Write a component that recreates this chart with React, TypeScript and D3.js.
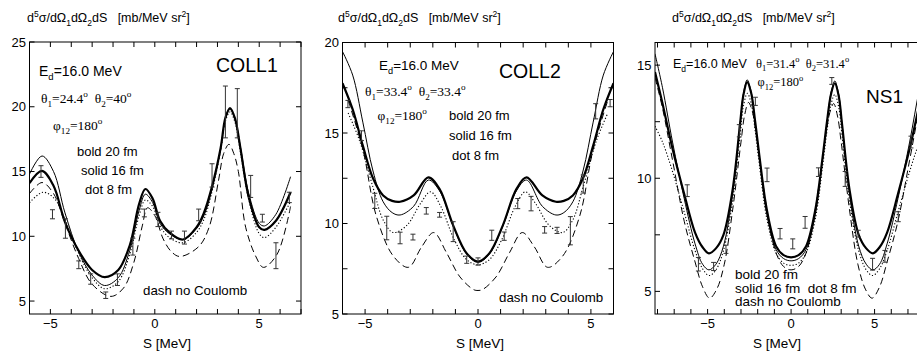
import React from "react";
import * as d3 from "d3";

type Pt = [number, number];
type Bar = [number, number, number]; // S, value, half error

// ---------- COLL1 ----------
const coll1Bold: Pt[] = [[-6, 14.1], [-5.4, 15.05], [-4.85, 13.9], [-4.3, 11.1], [-3.65, 8.9], [-3.0, 7.4], [-2.4, 6.85], [-1.75, 7.4], [-1.2, 9.3], [-0.75, 12.5], [-0.45, 13.65], [-0.1, 12.9], [0.25, 11.2], [0.7, 10.3], [1.35, 9.75], [2.0, 10.7], [2.35, 11.8], [2.7, 13.6], [3.15, 16.8], [3.38, 19.15], [3.6, 19.9], [3.84, 19.1], [4.1, 16.8], [4.5, 13.0], [5.0, 10.7], [5.25, 10.5], [5.8, 11.2], [6.5, 13.4]];
const coll1Solid: Pt[] = [[-6, 14.8], [-5.4, 16.2], [-4.85, 15.0], [-4.3, 11.8], [-3.65, 8.8], [-3.0, 7.0], [-2.4, 6.2], [-1.75, 6.8], [-1.2, 8.9], [-0.75, 12.0], [-0.45, 13.25], [-0.1, 12.6], [0.25, 11.0], [0.7, 10.2], [1.35, 9.75], [2.0, 10.6], [2.35, 11.6], [2.7, 13.4], [3.15, 16.7], [3.38, 19.05], [3.6, 19.8], [3.84, 19.05], [4.1, 16.9], [4.5, 13.3], [5.0, 11.0], [5.25, 10.8], [5.8, 11.7], [6.5, 14.6]];
const coll1Dot: Pt[] = [[-6, 12.6], [-5.35, 13.4], [-4.8, 12.9], [-4.3, 11.3], [-3.65, 8.7], [-3.0, 6.8], [-2.4, 5.95], [-1.75, 6.5], [-1.2, 8.6], [-0.75, 11.6], [-0.45, 12.8], [-0.1, 12.3], [0.25, 10.8], [0.7, 9.9], [1.35, 9.5], [2.0, 10.3], [2.35, 11.3], [2.7, 13.2], [3.15, 16.6], [3.38, 18.9], [3.6, 19.6], [3.84, 18.8], [4.1, 16.5], [4.5, 12.8], [5.0, 10.2], [5.25, 9.9], [5.8, 10.7], [6.5, 12.7]];
const coll1Dash: Pt[] = [[-6, 13.3], [-5.4, 14.15], [-4.85, 13.3], [-4.3, 11.0], [-3.65, 8.3], [-3.0, 6.3], [-2.1, 5.36], [-1.5, 6.0], [-1.0, 8.0], [-0.6, 10.8], [-0.35, 12.2], [0.0, 11.6], [0.4, 9.8], [0.8, 8.8], [1.2, 8.44], [2.1, 9.2], [2.6, 10.7], [3.05, 14.3], [3.3, 16.4], [3.55, 17.1], [3.78, 16.4], [4.0, 15.0], [4.35, 10.7], [4.85, 8.4], [5.2, 7.6], [5.85, 8.6], [6.5, 12.3]];
const coll1Data: Bar[] = [[-5.45, 15.0, 0.45], [-4.9, 11.7, 0.35], [-4.28, 10.6, 0.75], [-3.64, 7.8, 0.3], [-3.07, 6.7, 0.4], [-2.35, 5.45, 0.25], [-1.79, 6.65, 0.45], [-1.05, 9.2, 0.65], [-0.5, 11.8, 0.3], [0.15, 11.3, 0.55], [0.8, 10.1, 0.3], [1.42, 9.9, 0.5], [2.1, 11.65, 0.45], [2.74, 14.7, 0.9], [3.38, 19.6, 2.0], [3.95, 19.5, 1.9], [4.59, 13.85, 0.85], [5.15, 11.4, 0.3], [5.8, 8.5, 1.0], [6.44, 13.0, 0.4]];

// ---------- COLL2 ----------
const coll2Bold: Pt[] = [[-6, 17.75], [-5.55, 16.3], [-5.1, 14.3], [-4.65, 12.5], [-4.2, 11.55], [-3.8, 11.25], [-3.45, 11.2], [-2.85, 11.55], [-2.2, 12.55], [-1.7, 11.9], [-1.1, 9.9], [-0.5, 8.35], [0, 7.9], [0.5, 8.35], [1.1, 9.9], [1.7, 11.9], [2.15, 12.55], [2.85, 11.55], [3.45, 11.2], [3.8, 11.25], [4.2, 11.55], [4.65, 12.5], [5.1, 14.3], [5.55, 16.3], [6, 17.75]];
const coll2Solid: Pt[] = [[-6, 19.5], [-5.55, 18.2], [-5.1, 15.6], [-4.65, 12.9], [-4.2, 11.2], [-3.8, 10.6], [-3.45, 10.47], [-2.85, 10.95], [-2.2, 12.4], [-1.7, 11.8], [-1.1, 9.85], [-0.5, 8.3], [0, 7.85], [0.5, 8.3], [1.1, 9.85], [1.7, 11.8], [2.15, 12.4], [2.85, 10.95], [3.45, 10.47], [3.8, 10.6], [4.2, 11.2], [4.65, 12.9], [5.1, 15.6], [5.55, 18.2], [6, 19.5]];
const coll2Dot: Pt[] = [[-5.75, 16.1], [-5.25, 14.6], [-4.65, 12.0], [-4.2, 10.2], [-3.75, 9.5], [-3.15, 9.9], [-2.55, 11.1], [-2.1, 11.75], [-1.65, 10.95], [-1.05, 9.1], [-0.5, 8.0], [0, 7.72], [0.5, 8.0], [1.05, 9.1], [1.65, 10.95], [2.1, 11.75], [2.55, 11.1], [3.15, 9.9], [3.75, 9.5], [4.2, 10.2], [4.65, 12.0], [5.25, 14.6], [5.75, 16.1]];
const coll2Dash: Pt[] = [[-5.75, 16.8], [-5.1, 14.1], [-4.5, 10.4], [-3.75, 8.2], [-3.08, 7.58], [-2.5, 8.7], [-1.96, 9.5], [-1.4, 8.4], [-0.8, 7.05], [-0.2, 6.35], [0, 6.3], [0.2, 6.35], [0.8, 7.05], [1.4, 8.4], [1.96, 9.5], [2.5, 8.7], [3.08, 7.58], [3.75, 8.2], [4.5, 10.4], [5.1, 14.1], [5.75, 16.8]];
const coll2Data: Bar[] = [[-5.76, 16.6, 0.2], [-5.16, 14.85, 0.27], [-4.57, 11.25, 0.42], [-4.04, 9.75, 0.65], [-3.45, 9.2, 0.32], [-2.88, 9.25, 0.16], [-2.29, 10.7, 0.18], [-1.7, 10.48, 0.13], [-1.1, 9.55, 0.55], [-0.5, 8.0, 0.2], [0, 7.9, 0.2], [0.61, 9.35, 0.28], [1.16, 9.3, 0.23], [1.76, 11.1, 0.28], [2.35, 11.1, 0.4], [2.95, 9.65, 0.18], [3.5, 9.62, 0.17], [4.09, 9.6, 0.78], [4.66, 12.18, 0.5], [5.21, 16.2, 0.42], [5.85, 16.65, 0.2]];

// ---------- NS1 ----------
const ns1Bold: Pt[] = [[-8.15, 14.7], [-7.7, 13.3], [-7.1, 11.3], [-6.4, 9.3], [-5.75, 7.6], [-5.3, 6.95], [-4.92, 6.68], [-4.5, 6.9], [-4.05, 7.5], [-3.5, 9.5], [-3.05, 12.45], [-2.85, 13.7], [-2.63, 14.25], [-2.4, 13.8], [-2.15, 12.5], [-1.9, 11.0], [-1.45, 8.6], [-0.9, 7.0], [-0.45, 6.6], [0, 6.5], [0.45, 6.6], [0.9, 7.0], [1.45, 8.6], [1.9, 11.0], [2.15, 12.5], [2.4, 13.75], [2.62, 14.2], [2.85, 13.65], [3.05, 12.4], [3.5, 9.5], [4.05, 7.5], [4.5, 6.9], [4.9, 6.68], [5.3, 6.95], [5.75, 7.6], [6.4, 9.3], [7.1, 11.3], [7.7, 13.3], [8.2, 14.8]];
const ns1Solid: Pt[] = [[-8.15, 15.5], [-7.7, 14.0], [-7.1, 11.6], [-6.4, 9.1], [-5.75, 7.1], [-5.3, 6.2], [-4.92, 5.95], [-4.5, 6.2], [-4.05, 7.0], [-3.5, 9.3], [-3.05, 12.4], [-2.85, 13.75], [-2.63, 14.35], [-2.4, 13.85], [-2.15, 12.45], [-1.9, 10.9], [-1.45, 8.4], [-0.9, 6.85], [-0.45, 6.45], [0, 6.35], [0.45, 6.45], [0.9, 6.85], [1.45, 8.4], [1.9, 10.9], [2.15, 12.45], [2.4, 13.8], [2.62, 14.3], [2.85, 13.7], [3.05, 12.4], [3.5, 9.3], [4.05, 7.0], [4.5, 6.2], [4.9, 5.95], [5.3, 6.2], [5.75, 7.1], [6.4, 9.1], [7.1, 11.6], [7.7, 14.0], [8.2, 15.6]];
const ns1Dot: Pt[] = [[-8.15, 12.3], [-7.7, 11.6], [-7.1, 10.3], [-6.4, 8.5], [-5.75, 6.8], [-5.3, 6.0], [-4.9, 5.7], [-4.5, 5.95], [-4.05, 6.8], [-3.5, 9.0], [-3.05, 11.9], [-2.85, 13.2], [-2.62, 13.75], [-2.4, 13.35], [-2.15, 12.1], [-1.9, 10.6], [-1.45, 8.2], [-0.9, 6.7], [-0.45, 6.25], [0, 6.15], [0.45, 6.25], [0.9, 6.7], [1.45, 8.2], [1.9, 10.6], [2.15, 12.1], [2.4, 13.3], [2.62, 13.7], [2.85, 13.15], [3.05, 11.9], [3.5, 9.0], [4.05, 6.8], [4.5, 5.95], [4.88, 5.7], [5.3, 6.0], [5.75, 6.8], [6.4, 8.5], [7.1, 10.3], [7.7, 11.6], [8.2, 12.3]];
const ns1Dash: Pt[] = [[-8.15, 14.45], [-7.7, 13.1], [-7.1, 10.8], [-6.4, 8.1], [-5.75, 6.3], [-5.3, 5.2], [-4.88, 4.7], [-4.45, 5.1], [-4.0, 6.2], [-3.5, 8.6], [-3.0, 11.6], [-2.78, 12.8], [-2.55, 13.35], [-2.32, 12.95], [-2.08, 11.9], [-1.8, 10.4], [-1.4, 8.4], [-0.9, 6.7], [-0.45, 6.1], [0, 5.95], [0.45, 6.1], [0.9, 6.7], [1.4, 8.4], [1.8, 10.4], [2.08, 11.9], [2.32, 12.9], [2.55, 13.3], [2.78, 12.75], [3.0, 11.6], [3.5, 8.6], [4.0, 6.2], [4.45, 5.1], [4.85, 4.7], [5.3, 5.2], [5.75, 6.3], [6.4, 8.1], [7.1, 10.8], [7.7, 13.1], [8.2, 14.5]];
const ns1Data: Bar[] = [[-6.22, 9.45, 0.26], [-5.55, 6.2, 0.3], [-4.64, 6.1, 0.18], [-3.9, 6.86, 0.18], [-3.1, 12.1, 0.27], [-2.14, 13.4, 0.18], [-1.44, 10.15, 0.3], [-0.66, 7.55, 0.23], [0.1, 7.1, 0.22], [0.84, 8.05, 0.26], [1.64, 10.27, 0.19], [2.44, 14.3, 0.15], [3.24, 9.97, 0.33], [4.02, 7.55, 0.15], [4.88, 6.2, 0.26], [5.62, 6.55, 0.26], [6.42, 8.3, 0.22], [7.18, 11.6, 0.26]];

const xMajor = [-5, 0, 5];

type Kind = "n" | "sub" | "sup";
type Part = [string, Kind];
interface Note { x: number; y: number; size: number; serif?: boolean; parts: Part[] }

const SANS = "'Liberation Sans', Arial, Helvetica, sans-serif";
const SERIF = "'Liberation Serif', 'Times New Roman', serif";

const titleParts: Part[] = [["d", "n"], ["5", "sup"], ["σ/dΩ", "n"], ["1", "sub"], ["dΩ", "n"], ["2", "sub"], ["dS   [mb/MeV sr", "n"], ["2", "sup"], ["]", "n"]];

const edParts: Part[] = [["E", "n"], ["d", "sub"], ["=16.0 MeV", "n"]];
const theta = (a: string, b: string): Part[] => [["θ", "n"], ["1", "sub"], ["=" + a, "n"], ["o", "sup"], ["  θ", "n"], ["2", "sub"], ["=" + b, "n"], ["o", "sup"]];
const phiParts: Part[] = [["φ", "n"], ["12", "sub"], ["=180", "n"], ["o", "sup"]];

const styles: Record<string, { w: number; dash?: string }> = {
  bold: { w: 2.2 },
  solid: { w: 1 },
  dot: { w: 1.1, dash: "1.2,2" },
  dash: { w: 1, dash: "7,4" },
};

interface PanelSpec {
  id: string;
  l: number; r: number; t: number; b: number;
  xDomain: [number, number];
  yDomain: [number, number];
  yLabels: number[];
  yMinor: number[];
  curves: [string, Pt[]][];
  bars: Bar[];
  titleX: number;
  labelX: number;
  notes: Note[];
}

const panels: PanelSpec[] = [
  {
    id: "p1", l: 29.5, r: 301, t: 42, b: 314,
    xDomain: [-6, 7], yDomain: [4, 25],
    yLabels: [5, 10, 15, 20, 25], yMinor: [],
    curves: [["dash", coll1Dash], ["dot", coll1Dot], ["solid", coll1Solid], ["bold", coll1Bold]],
    bars: coll1Data, titleX: 27, labelX: 167,
    notes: [
      { x: 39, y: 76, size: 14, parts: edParts },
      { x: 216, y: 72, size: 19.5, parts: [["COLL1", "n"]] },
      { x: 41, y: 103, size: 13.5, serif: true, parts: theta("24.4", "40") },
      { x: 53, y: 130, size: 13.5, serif: true, parts: phiParts },
      { x: 77, y: 156, size: 13, parts: [["bold 20 fm", "n"]] },
      { x: 81, y: 174.5, size: 13, parts: [["solid 16 fm", "n"]] },
      { x: 85, y: 193.5, size: 13, parts: [["dot 8 fm", "n"]] },
      { x: 143, y: 295, size: 13.3, parts: [["dash no Coulomb", "n"]] },
    ],
  },
  {
    id: "p2", l: 342.5, r: 613.5, t: 42.5, b: 314,
    xDomain: [-6, 6], yDomain: [5, 20],
    yLabels: [5, 10, 15, 20], yMinor: [7.5, 12.5, 17.5],
    curves: [["dash", coll2Dash], ["dot", coll2Dot], ["solid", coll2Solid], ["bold", coll2Bold]],
    bars: coll2Data, titleX: 338, labelX: 480,
    notes: [
      { x: 379, y: 69.5, size: 13.5, parts: edParts },
      { x: 499, y: 78, size: 19.5, parts: [["COLL2", "n"]] },
      { x: 365, y: 96, size: 13.5, serif: true, parts: theta("33.4", "33.4") },
      { x: 377.5, y: 120, size: 13.5, serif: true, parts: phiParts },
      { x: 449, y: 119.5, size: 13, parts: [["bold 20 fm", "n"]] },
      { x: 449, y: 140, size: 13, parts: [["solid 16 fm", "n"]] },
      { x: 452, y: 159.5, size: 13, parts: [["dot 8 fm", "n"]] },
      { x: 499, y: 302, size: 13.3, parts: [["dash no Coulomb", "n"]] },
    ],
  },
  {
    id: "p3", l: 655, r: 928, t: 42.5, b: 314,
    xDomain: [-8.15, 8.2], yDomain: [4, 16],
    yLabels: [5, 10, 15], yMinor: [7.5, 12.5],
    curves: [["dash", ns1Dash], ["dot", ns1Dot], ["solid", ns1Solid], ["bold", ns1Bold]],
    bars: ns1Data, titleX: 672, labelX: 777,
    notes: [
      { x: 673, y: 68, size: 12.5, parts: edParts },
      { x: 756, y: 67.5, size: 12.5, serif: true, parts: theta("31.4", "31.4") },
      { x: 757.5, y: 86, size: 12.5, serif: true, parts: phiParts },
      { x: 866, y: 103, size: 19, parts: [["NS1", "n"]] },
      { x: 735, y: 278.5, size: 13.5, parts: [["bold 20 fm", "n"]] },
      { x: 735, y: 292.5, size: 13.5, parts: [["solid 16 fm  dot 8 fm", "n"]] },
      { x: 735, y: 306, size: 13.5, parts: [["dash no Coulomb", "n"]] },
    ],
  },
];

function Rich({ note }: { note: Note }) {
  const { x, y, size, serif, parts } = note;
  let cur = 0;
  return (
    <text x={x} y={y} fontSize={size} fontFamily={serif ? SERIF : SANS} style={{ whiteSpace: "pre" }}>
      {parts.map(([t, k], i) => {
        const target = k === "sub" ? size * 0.3 : k === "sup" ? -size * 0.42 : 0;
        const dy = target - cur;
        cur = target;
        return (
          <tspan key={i} dy={dy} fontSize={k === "n" ? size : size * 0.68}>{t}</tspan>
        );
      })}
    </text>
  );
}

const fmt = (v: number) => (v < 0 ? "\u2212" + Math.abs(v) : String(v));

function Panel({ p }: { p: PanelSpec }) {
  const x = d3.scaleLinear().domain(p.xDomain).range([p.l, p.r]);
  const y = d3.scaleLinear().domain(p.yDomain).range([p.b, p.t]);
  const line = d3.line<Pt>().x((d) => x(d[0])).y((d) => y(d[1])).curve(d3.curveCatmullRom.alpha(0.5));
  const xMinor = d3.range(Math.ceil(p.xDomain[0]), Math.floor(p.xDomain[1]) + 1);
  const tk = 5;
  return (
    <g>
      <defs>
        <clipPath id={"clip-" + p.id}>
          <rect x={p.l} y={p.t} width={p.r - p.l} height={p.b - p.t} />
        </clipPath>
      </defs>
      <Rich note={{ x: p.titleX, y: 22, size: 12.5, parts: titleParts }} />
      <g clipPath={`url(#clip-${p.id})`} fill="none" stroke="#000">
        {p.curves.map(([k, data]) => (
          <path key={k} d={line(data) || ""} strokeWidth={styles[k].w} strokeDasharray={styles[k].dash} />
        ))}
        {p.bars.map(([s, v, e], i) => (
          <g key={i} stroke="#333" strokeWidth={1}>
            <line x1={x(s)} x2={x(s)} y1={y(v - e)} y2={y(v + e)} />
            <line x1={x(s) - 2.5} x2={x(s) + 2.5} y1={y(v - e)} y2={y(v - e)} />
            <line x1={x(s) - 2.5} x2={x(s) + 2.5} y1={y(v + e)} y2={y(v + e)} />
          </g>
        ))}
      </g>
      <rect x={p.l} y={p.t} width={p.r - p.l} height={p.b - p.t} fill="none" stroke="#000" strokeWidth={1} />
      <g stroke="#000" strokeWidth={1}>
        {xMinor.map((s) => (
          <g key={s}>
            <line x1={x(s)} x2={x(s)} y1={p.b} y2={p.b - tk} />
            <line x1={x(s)} x2={x(s)} y1={p.t} y2={p.t + tk} />
          </g>
        ))}
        {[...p.yLabels, ...p.yMinor].map((v) => (
          <g key={v}>
            <line x1={p.l} x2={p.l + tk} y1={y(v)} y2={y(v)} />
            <line x1={p.r} x2={p.r - tk} y1={y(v)} y2={y(v)} />
          </g>
        ))}
      </g>
      <g fontFamily={SANS} fontSize={13}>
        {xMajor.map((s) => (
          <text key={s} x={x(s)} y={328} textAnchor="middle">{fmt(s)}</text>
        ))}
        {p.yLabels.map((v) => (
          <text key={v} x={p.l - 3.5} y={y(v)} dy="0.36em" textAnchor="end">{fmt(v)}</text>
        ))}
        <text x={p.labelX} y={348} textAnchor="middle" fontSize={13.5}>S [MeV]</text>
      </g>
      {p.notes.map((n, i) => (
        <Rich key={i} note={n} />
      ))}
    </g>
  );
}

export default function App() {
  return (
    <svg width={917} height={356} style={{ position: "absolute", left: 0, top: 0, background: "#fff" }}>
      <rect width={917} height={356} fill="#fff" />
      {panels.map((p) => (
        <Panel key={p.id} p={p} />
      ))}
    </svg>
  );
}
